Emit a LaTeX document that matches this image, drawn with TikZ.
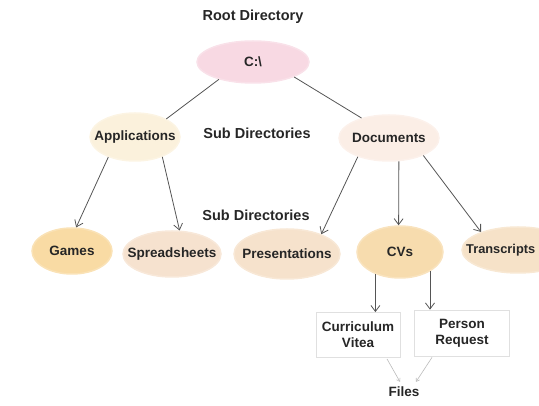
\documentclass[tikz,border=0pt]{standalone}
\usepackage{fontspec}
\setmainfont{Liberation Sans}
\usetikzlibrary{shapes.geometric,arrows.meta,calc}

\definecolor{inkc}{HTML}{262626}
\definecolor{edgec}{HTML}{555555}
\definecolor{rootfill}{HTML}{F8D9E3}
\definecolor{appfill}{HTML}{FBF1DC}
\definecolor{docfill}{HTML}{FBEEE6}
\definecolor{gamefill}{HTML}{F9DBA4}
\definecolor{spreadfill}{HTML}{F6E2CF}
\definecolor{presfill}{HTML}{F6E2CC}
\definecolor{cvfill}{HTML}{F7DCAE}
\definecolor{transfill}{HTML}{F6E2C8}
\definecolor{boxline}{HTML}{E0E0E0}
\definecolor{fileline}{HTML}{BBBBBB}

\tikzset{
  txt/.style={font=\fontsize{13.5}{16}\selectfont\bfseries, text=inkc, inner sep=0pt, align=center},
  heading/.style={font=\fontsize{14.5}{17}\selectfont\bfseries, text=inkc, inner sep=0pt},
  bubble/.style={ellipse, inner sep=0pt, fill=#1, draw=#1!80, line width=1.5pt},
  filebox/.style={rectangle, fill=white, draw=boxline, line width=0.8pt, inner sep=0pt},
  link/.style={draw=edgec, line width=0.8pt},
  arrow/.style={link, -{Straight Barb[length=6pt,width=9pt]}},
  thinarrow/.style={draw=fileline, line width=0.6pt, -{Straight Barb[length=3pt,width=4pt]}},
}

\begin{document}
\begin{tikzpicture}[x=1pt, y=-1pt]
  \useasboundingbox (0,0) rectangle (539,406);
  \clip (0,0) rectangle (539,406);

  % headings
  \node[heading] (rootlbl) at (253,17) {Root Directory};
  \node[heading] (sub1) at (257,133) {Sub Directories};
  \node[heading] (sub2) at (256,215) {Sub Directories};

  % directory tree
  \node[bubble=rootfill, minimum width=112pt, minimum height=42pt,
        label={[txt]center:C:\textbackslash}] (c) at (253,62) {};

  \node[bubble=appfill, minimum width=90pt, minimum height=48pt,
        label={[txt]center:Applications}] (app) at (135,137) {};
  \node[bubble=docfill, minimum width=100pt, minimum height=46pt,
        label={[txt]center:Documents}] (doc) at (389,138) {};

  \node[bubble=gamefill, minimum width=80pt, minimum height=46pt,
        label={[txt]center:Games}] (games) at (72,251) {};
  \node[bubble=spreadfill, minimum width=98pt, minimum height=46pt,
        label={[txt]center:Spreadsheets}] (spread) at (172,254) {};
  \node[bubble=presfill, minimum width=106pt, minimum height=50pt,
        label={[txt]center:Presentations}] (pres) at (287,254) {};
  \node[bubble=cvfill, minimum width=86pt, minimum height=52pt,
        label={[txt]center:CVs}] (cvs) at (400,252) {};
  \node[bubble=transfill, minimum width=112pt, minimum height=46pt] (trans) at (518,250) {};
  \node[txt, anchor=west, font=\fontsize{12.8}{15}\selectfont\bfseries] (transt) at (466,250) {Transcripts};

  % files
  \node[filebox, minimum width=84pt, minimum height=45pt] (cv) at (358,335) {};
  \node[txt] (cvt) at (cv) {Curriculum\\Vitea};
  \node[filebox, minimum width=95pt, minimum height=46pt] (pr) at (462,333) {};
  \node[txt] (prt) at (pr) {Person\\Request};
  \node[txt] (files) at (404,392) {Files};

  % connectors
  \draw[link] (c.207) -- (app.30);
  \draw[link] (c.340) -- (doc.144);

  \draw[arrow] (app.217) -- (games.80);
  \draw[arrow] (app.324) -- (spread.72);

  \draw[arrow] (doc.211) -- (pres.30);
  \draw[arrow] (doc.293) -- (cvs.93);
  \draw[arrow] (doc.333) -- (trans.154);

  \draw[arrow] (cvs.222) -- (cvs.222 |- cv.north);
  \draw[arrow] (cvs.327) -- (cvs.327 |- pr.north);

  \draw[thinarrow] ($(cv.south)+(29,1)$) -- ($(files.north)+(-4,-5)$);
  \draw[thinarrow] ($(pr.south)+(-30,1)$) -- ($(files.north)+(12,-5)$);
\end{tikzpicture}
\end{document}
